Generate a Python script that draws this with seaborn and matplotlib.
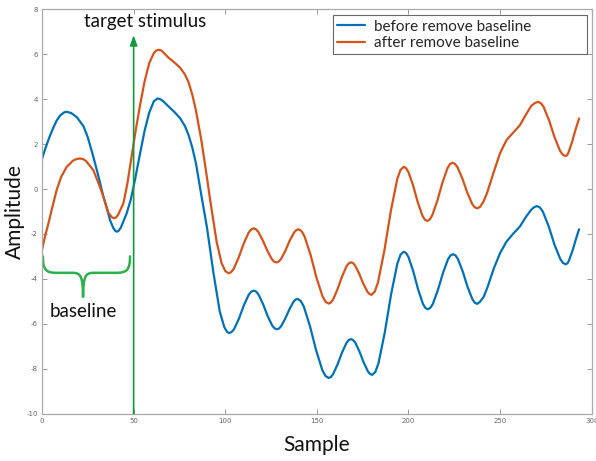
import numpy as np
import pandas as pd
import matplotlib
matplotlib.use("Agg")
import matplotlib.pyplot as plt
from matplotlib.path import Path
from matplotlib.patches import PathPatch
import seaborn as sns

# ---------------- data ----------------
sample_before = [0, 2, 4, 6, 8, 10, 12, 13.5,
                 16, 19, 22.6, 25, 28, 31, 33.5, 35.5, 37.1, 39, 40, 40.8, 41.8,
                 43, 46.2, 48.5, 50.7, 53.5, 56, 58.5, 61, 63, 64.5,
                 66, 69, 72, 75.4, 78, 80, 82, 84, 87, 90, 93.5, 97, 99.5, 101, 102.2,
                 103.53, 104.86, 107.52, 108.85, 110.18, 112.84, 114.17, 115.5,
                 116.77, 118.04, 120.58, 121.85, 123.12, 125.66, 126.93, 128.2,
                 129.33, 130.46, 132.72, 133.85, 134.98, 137.24, 138.37, 139.5,
                 141.19, 142.88, 146.26, 147.95, 149.64, 153.02, 154.71, 156.4,
                 157.62, 158.84, 161.28, 162.5, 163.72, 166.16, 167.38, 168.6,
                 169.76, 170.92, 173.24, 174.4, 175.56, 177.88, 179.04, 180.2,
                 181.92, 183.64, 187.08, 188.8, 190.52, 193.96, 195.68, 197.4,
                 198.71, 200.02, 202.64, 203.95, 205.26, 207.88, 209.19, 210.5,
                 211.88, 213.26, 216.02, 217.4, 218.78, 221.54, 222.92, 224.3,
                 225.62, 226.94, 229.58, 230.9, 232.22, 234.86, 236.18, 237.5,
                 239, 241, 243, 246.5, 250, 253.5, 257, 260.8, 264, 267, 268.7, 270.2,
                 271.77, 273.34, 276.48, 278.05, 279.62, 282.76, 284.33, 285.9,
                 286.8, 287.5, 289.5, 291.3, 293.1]
amp_before = [1.35, 1.85, 2.3, 2.7, 3.05, 3.28, 3.41, 3.44,
              3.38, 3.2, 2.8, 2.3, 1.44, 0.5, -0.34, -0.9, -1.38, -1.75, -1.86, -1.9, -1.86,
              -1.72, -1.08, -0.45, 0.4, 1.58, 2.6, 3.4, 3.9, 4.03, 4.0,
              3.92, 3.68, 3.45, 3.15, 2.8, 2.4, 1.85, 1.15, -0.3, -1.7, -3.7, -5.45, -6.15, -6.36, -6.41,
              -6.36, -6.23, -5.76, -5.465, -5.17, -4.70, -4.57, -4.52,
              -4.56, -4.68, -5.11, -5.38, -5.65, -6.08, -6.20, -6.24,
              -6.21, -6.11, -5.77, -5.565, -5.36, -5.02, -4.92, -4.89,
              -4.98, -5.23, -6.11, -6.65, -7.19, -8.07, -8.32, -8.41,
              -8.37, -8.24, -7.81, -7.545, -7.28, -6.85, -6.72, -6.68,
              -6.72, -6.83, -7.23, -7.475, -7.72, -8.12, -8.23, -8.27,
              -8.14, -7.75, -6.38, -5.53, -4.68, -3.31, -2.92, -2.79,
              -2.85, -3.03, -3.67, -4.07, -4.47, -5.11, -5.29, -5.35,
              -5.29, -5.12, -4.50, -4.125, -3.75, -3.13, -2.96, -2.90,
              -2.95, -3.11, -3.66, -4.005, -4.35, -4.90, -5.06, -5.11,
              -5.02, -4.8, -4.4, -3.55, -2.85, -2.34, -2.0, -1.67, -1.25, -0.92, -0.8, -0.76,
              -0.82, -1.01, -1.65, -2.055, -2.46, -3.10, -3.29, -3.35,
              -3.3, -3.2, -2.75, -2.25, -1.79]

sample_after = [0, 1.5, 3.5, 5.5, 8, 10.5, 13.5, 17, 19, 20.7, 22.5,
                24, 28, 31, 33.5, 36.2, 38, 39.3, 40.3,
                41.5, 44.4, 46.5, 48.9, 51, 53.5, 56, 58.5, 61, 62.3, 63.5, 64.8,
                66, 69, 72, 75.4, 78, 80, 82, 84, 87, 89.5, 91.7, 95.3, 98, 100, 101.8,
                103.17, 104.54, 107.28, 108.65, 110.02, 112.76, 114.13, 115.5,
                116.74, 117.98, 120.46, 121.7, 122.94, 125.42, 126.66, 127.9,
                129.11, 130.32, 132.74, 133.95, 135.16, 137.58, 138.79, 140,
                141.64, 143.28, 146.56, 148.2, 149.84, 153.12, 154.76, 156.4,
                157.62, 158.84, 161.28, 162.5, 163.72, 166.16, 167.38, 168.6,
                169.72, 170.84, 173.08, 174.2, 175.32, 177.56, 178.68, 179.8,
                181.56, 183.32, 186.84, 188.6, 190.36, 193.88, 195.64, 197.4,
                198.68, 199.96, 202.52, 203.8, 205.08, 207.64, 208.92, 210.2,
                211.58, 212.96, 215.72, 217.1, 218.48, 221.24, 222.62, 224,
                225.35, 226.7, 229.4, 230.75, 232.1, 234.8, 236.15, 237.5,
                239, 241, 243, 246.5, 250, 253.5, 257, 260.8, 264, 267, 269, 270.8,
                272.29, 273.78, 276.76, 278.25, 279.74, 282.72, 284.21, 285.7,
                286.5, 287.3, 289.3, 291.2, 293.1]
amp_after = [-2.71, -2.15, -1.53, -0.85, -0.04, 0.55, 0.99, 1.27, 1.34, 1.36, 1.33,
             1.25, 0.84, 0.22, -0.34, -1.05, -1.25, -1.3, -1.27,
             -1.15, -0.64, 0.2, 1.44, 2.55, 3.73, 4.8, 5.6, 6.05, 6.16, 6.2, 6.18,
             6.1, 5.85, 5.65, 5.4, 5.1, 4.75, 4.2, 3.5, 2.15, 0.8, -0.45, -2.35, -3.3, -3.65, -3.75,
             -3.70, -3.56, -3.06, -2.75, -2.44, -1.94, -1.80, -1.75,
             -1.79, -1.90, -2.28, -2.51, -2.74, -3.12, -3.23, -3.27,
             -3.23, -3.13, -2.76, -2.53, -2.30, -1.93, -1.83, -1.79,
             -1.87, -2.11, -2.93, -3.445, -3.96, -4.78, -5.02, -5.1,
             -5.05, -4.92, -4.46, -4.18, -3.90, -3.44, -3.31, -3.26,
             -3.30, -3.40, -3.76, -3.985, -4.21, -4.57, -4.67, -4.71,
             -4.57, -4.17, -2.74, -1.86, -0.98, 0.45, 0.85, 0.99,
             0.93, 0.76, 0.16, -0.215, -0.59, -1.19, -1.36, -1.42,
             -1.36, -1.17, -0.53, -0.125, 0.27, 0.92, 1.11, 1.17,
             1.12, 0.98, 0.47, 0.155, -0.16, -0.67, -0.81, -0.86,
             -0.8, -0.55, -0.15, 0.75, 1.6, 2.18, 2.5, 2.84, 3.3, 3.7, 3.83, 3.88,
             3.82, 3.65, 3.05, 2.675, 2.30, 1.70, 1.53, 1.47,
             1.5, 1.62, 2.1, 2.65, 3.14]

series_labels = ["before remove baseline", "after remove baseline"]
x_ticks = [0, 50, 100, 150, 200, 250, 300]
y_ticks = [-10, -8, -6, -4, -2, 0, 2, 4, 6, 8]
stimulus_sample = 50

# ---------------- build table ----------------
df = pd.concat([
    pd.DataFrame({"Sample": sample_before, "Amplitude": amp_before, "series": series_labels[0]}),
    pd.DataFrame({"Sample": sample_after, "Amplitude": amp_after, "series": series_labels[1]}),
], ignore_index=True)

sns.set_theme(style="white")
plt.rcParams["font.family"] = ["Lato", "DejaVu Sans"]

fig = plt.figure(figsize=(5.96, 4.61), dpi=100)
ax = fig.add_axes([0.0705, 0.1026, 0.9223, 0.8772])

palette = {series_labels[0]: "#0072BD", series_labels[1]: "#D95319"}
sns.lineplot(data=df, x="Sample", y="Amplitude", hue="series", palette=palette,
             sort=False, estimator=None, linewidth=1.6, ax=ax,
             solid_joinstyle="round", solid_capstyle="round")

ax.set_xlim(0, 300)
ax.set_ylim(-10, 8)
ax.set_xticks(x_ticks)
ax.set_yticks(y_ticks)
ax.set_xticklabels([str(v) for v in x_ticks], fontsize=5, color="#666666", family="DejaVu Sans")
ax.set_yticklabels([str(v) for v in y_ticks], fontsize=5, color="#666666", family="DejaVu Sans")
ax.tick_params(direction="in", length=3.5, width=0.7, color="#999999",
               top=True, right=True, bottom=True, left=True, pad=3)
for sp in ax.spines.values():
    sp.set_visible(True)
    sp.set_color("#aaaaaa")
    sp.set_linewidth(0.9)

ax.set_xlabel("Sample", fontsize=15, color="#111111", labelpad=8)
ax.set_ylabel("Amplitude", fontsize=15, color="#111111", labelpad=1)

# stimulus arrow
ax.annotate("", xy=(stimulus_sample, 6.85), xytext=(stimulus_sample, -10),
            arrowprops=dict(arrowstyle="-|>,head_length=0.5,head_width=0.18",
                            color="#129a3a", lw=1.2, shrinkA=0, shrinkB=0))
ax.text(56, 7.45, "target stimulus", fontsize=13.5, ha="center", va="center", color="#111111")

# baseline brace
verts = [(0.5, -3.0), (0.5, -3.6), (2.0, -3.73), (8.2, -3.73),
         (17.0, -3.73),
         (21.0, -3.73), (22.4, -3.9), (22.4, -4.8),
         (22.4, -3.9), (23.8, -3.73), (27.8, -3.73),
         (40.0, -3.73),
         (46.5, -3.73), (48.0, -3.6), (48.0, -3.0)]
codes = [Path.MOVETO, Path.CURVE4, Path.CURVE4, Path.CURVE4,
         Path.LINETO,
         Path.CURVE4, Path.CURVE4, Path.CURVE4,
         Path.CURVE4, Path.CURVE4, Path.CURVE4,
         Path.LINETO,
         Path.CURVE4, Path.CURVE4, Path.CURVE4]
ax.add_patch(PathPatch(Path(verts, codes), fill=False, edgecolor="#2bb24c", lw=1.8,
                       capstyle="round", joinstyle="round"))
ax.text(22.4, -5.45, "baseline", fontsize=13.5, ha="center", va="center", color="#111111")

# legend
handles, labels = ax.get_legend_handles_labels()
leg = ax.legend(handles, labels, loc="upper left", bbox_to_anchor=(0.529, 0.986, 0.462, 0.0),
                mode="expand", fontsize=11, frameon=True, fancybox=False,
                handlelength=1.8, handletextpad=0.6, borderpad=0.3, labelspacing=0.15,
                borderaxespad=0)
leg.get_frame().set_edgecolor("#444444")
leg.get_frame().set_linewidth(0.8)
for line in leg.get_lines():
    line.set_linewidth(1.6)

fig.savefig("out.png", dpi=100)
